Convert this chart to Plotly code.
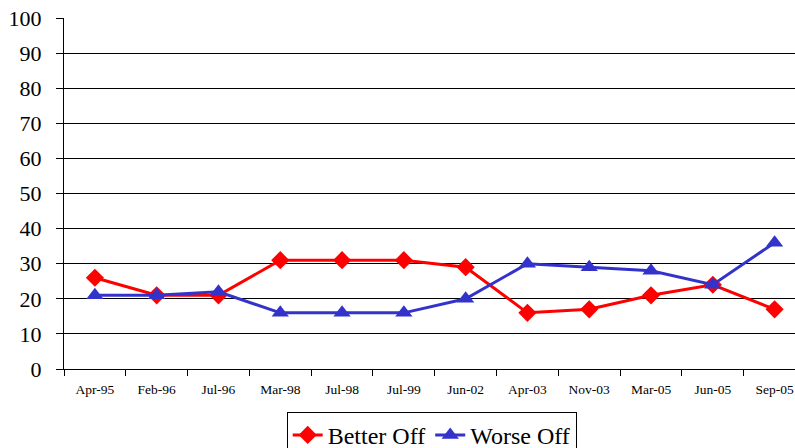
import plotly.graph_objects as go

categories = ["Apr-95", "Feb-96", "Jul-96", "Mar-98", "Jul-98", "Jul-99",
              "Jun-02", "Apr-03", "Nov-03", "Mar-05", "Jun-05", "Sep-05"]
better_off = [26, 21, 21, 31, 31, 31, 29, 16, 17, 21, 24, 17]
worse_off = [21, 21, 22, 16, 16, 16, 20, 30, 29, 28, 24, 36]
y_ticks = list(range(0, 101, 10))

fig = go.Figure()
fig.add_trace(go.Scatter(
    x=categories, y=better_off, name="Better Off", mode="lines+markers",
    line=dict(color="#FF0000", width=3),
    marker=dict(symbol="diamond", size=14, color="#FF0000"),
))
fig.add_trace(go.Scatter(
    x=categories, y=worse_off, name="Worse Off", mode="lines+markers",
    line=dict(color="#3333CC", width=3),
    marker=dict(symbol="triangle-up", size=15, color="#3333CC"),
))

fig.update_layout(
    width=795, height=448,
    margin=dict(l=64, r=0, t=18, b=79, autoexpand=False),
    plot_bgcolor="white", paper_bgcolor="white",
    font=dict(family="Liberation Serif, Times New Roman, serif", color="black"),
    showlegend=True,
    legend=dict(
        orientation="h", x=0.503, xanchor="center", y=-0.122, yanchor="top",
        bordercolor="black", borderwidth=1, font=dict(size=24),
        tracegroupgap=0,
    ),
    xaxis=dict(
        type="category", range=[-0.5, 11.33], automargin=False,
        showline=True, linecolor="black", linewidth=1,
        ticks="outside", tickson="boundaries", ticklen=6, tickcolor="black",
        tickfont=dict(size=13.5), showgrid=False, zeroline=False,
        ticklabelstandoff=8,
    ),
    yaxis=dict(
        range=[0, 100], tickvals=y_ticks, automargin=False,
        showline=True, linecolor="black", linewidth=1,
        ticks="outside", ticklen=7, tickcolor="black",
        tickfont=dict(size=22), gridcolor="black", gridwidth=1,
        zeroline=False, ticklabelstandoff=10,
    ),
)

fig.write_html(
    "out.html",
    config={"displayModeBar": False},
    post_script="document.body.style.margin='0';document.body.style.overflow='hidden';",
)
